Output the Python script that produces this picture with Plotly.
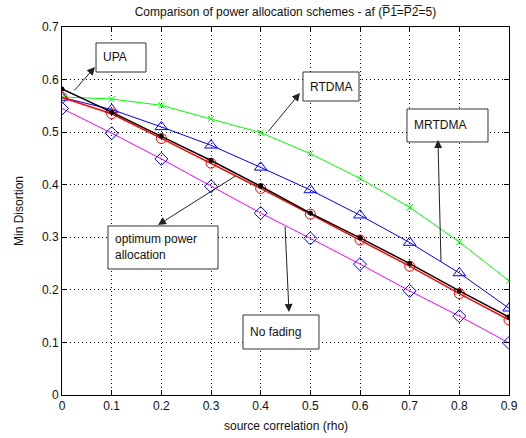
import plotly.graph_objects as go

rho = [0, 0.1, 0.2, 0.3, 0.4, 0.5, 0.6, 0.7, 0.8, 0.9]
rtdma = [0.567, 0.563, 0.551, 0.525, 0.499, 0.459, 0.412, 0.357, 0.291, 0.217]
mrtdma = [0.566, 0.543, 0.510, 0.475, 0.433, 0.390, 0.342, 0.290, 0.232, 0.165]
upa = [0.566, 0.535, 0.488, 0.441, 0.393, 0.344, 0.295, 0.245, 0.193, 0.143]
optimum = [0.582, 0.538, 0.492, 0.446, 0.397, 0.346, 0.299, 0.250, 0.198, 0.148]
no_fading = [0.545, 0.498, 0.449, 0.397, 0.346, 0.298, 0.249, 0.198, 0.150, 0.099]

x_ticks = [0, 0.1, 0.2, 0.3, 0.4, 0.5, 0.6, 0.7, 0.8, 0.9]
y_ticks = [0, 0.1, 0.2, 0.3, 0.4, 0.5, 0.6, 0.7]

# label boxes: text, x0, x1, y0, y1 (data units)
labels = [
    ("UPA", 0.0685, 0.1691, 0.6144, 0.6696),
    ("RTDMA", 0.4852, 0.5980, 0.5592, 0.6144),
    ("MRTDMA", 0.6946, 0.8577, 0.4813, 0.5440),
    ("optimum power<br>allocation", 0.0926, 0.3141, 0.2397, 0.3215),
    ("No fading", 0.3644, 0.5174, 0.0875, 0.1522),
]
# arrows: tail (x, y) -> head (x, y)
arrows = [
    (0.0221, 0.5764, 0.0664, 0.6239),
    (0.4128, 0.4984, 0.4792, 0.5745),
    (0.7631, 0.2511, 0.7570, 0.4851),
    (0.3523, 0.4185, 0.1933, 0.3234),
    (0.4490, 0.3234, 0.4570, 0.1579),
]

FONT = "Liberation Sans, Arial, sans-serif"
TXT = "#111111"

fig = go.Figure()
fig.add_trace(go.Scatter(x=rho, y=rtdma, mode="lines+markers",
                         line=dict(color="#00ff00", width=1),
                         marker=dict(symbol="x-thin", size=6, line=dict(color="#00ff00", width=1))))
fig.add_trace(go.Scatter(x=rho, y=mrtdma, mode="lines+markers",
                         line=dict(color="#0000ff", width=1),
                         marker=dict(symbol="triangle-up-open", size=11, color="#0000ff", line=dict(width=1))))
fig.add_trace(go.Scatter(x=rho, y=upa, mode="lines+markers",
                         line=dict(color="#ff0000", width=1.5),
                         marker=dict(symbol="circle-open", size=10, color="#ff0000", line=dict(width=1))))
fig.add_trace(go.Scatter(x=rho, y=optimum, mode="lines+markers",
                         line=dict(color="#000000", width=1.5),
                         marker=dict(symbol="circle", size=5, color="#000000")))
fig.add_trace(go.Scatter(x=rho, y=no_fading, mode="lines+markers",
                         line=dict(color="#ff00ff", width=1),
                         marker=dict(symbol="diamond-open", size=10, color="#0000ff", line=dict(width=1))))

shapes = []
annotations = []
for text, x0, x1, y0, y1 in labels:
    shapes.append(dict(type="rect", xref="x", yref="y", x0=x0, x1=x1, y0=y0, y1=y1,
                       line=dict(color="#333333", width=1), fillcolor="white", layer="above"))
    annotations.append(dict(text=text, xref="x", yref="y", x=x0, y=(y0 + y1) / 2,
                            xanchor="left", yanchor="middle", xshift=5, align="left",
                            showarrow=False, font=dict(family=FONT, size=12, color=TXT)))
for tx, ty, hx, hy in arrows:
    annotations.append(dict(text="", x=hx, y=hy, ax=tx, ay=ty, xref="x", yref="y",
                            axref="x", ayref="y", showarrow=True, arrowhead=2,
                            arrowsize=1.6, arrowwidth=1, arrowcolor="#222222"))

# axis titles as annotations (paper coordinates)
annotations.append(dict(text="source correlation (rho)", xref="paper", yref="paper",
                        x=0.5, y=0, yanchor="top", yshift=-22, showarrow=False,
                        font=dict(family=FONT, size=12, color=TXT)))
annotations.append(dict(text="Min Disortion", xref="paper", yref="paper",
                        x=0, y=0.5, xanchor="right", xshift=-34, textangle=-90,
                        showarrow=False, font=dict(family=FONT, size=12, color=TXT)))

title_text = "Comparison of power allocation schemes - af (P\u03051\u0305=P\u03052\u0305=5)"

fig.update_layout(
    width=526, height=438,
    margin=dict(l=62, r=17, t=27, b=43, autoexpand=False),
    paper_bgcolor="white", plot_bgcolor="white",
    showlegend=False,
    font=dict(family=FONT, size=12, color=TXT),
    title=dict(text=title_text, x=0.5427, xanchor="center", y=0.9726, yanchor="middle",
               font=dict(family=FONT, size=12, color=TXT)),
    shapes=shapes,
    annotations=annotations,
)
axis_common = dict(showline=True, linecolor="black", linewidth=1, mirror="ticks",
                   ticks="inside", ticklen=5, tickcolor="black", automargin=False,
                   showgrid=True, gridcolor="black", griddash="1px,3px", gridwidth=1,
                   zeroline=False, tickfont=dict(family=FONT, size=12, color=TXT))
fig.update_xaxes(range=[0, 0.9], tickvals=x_ticks, ticktext=[f"{v:g}" for v in x_ticks],
                 **axis_common)
fig.update_yaxes(range=[0, 0.7], tickvals=y_ticks, ticktext=[f"{v:g}" for v in y_ticks],
                 **axis_common)

fig.write_html("out.html", config={"displayModeBar": False},
               post_script="document.body.style.margin='0px';")
